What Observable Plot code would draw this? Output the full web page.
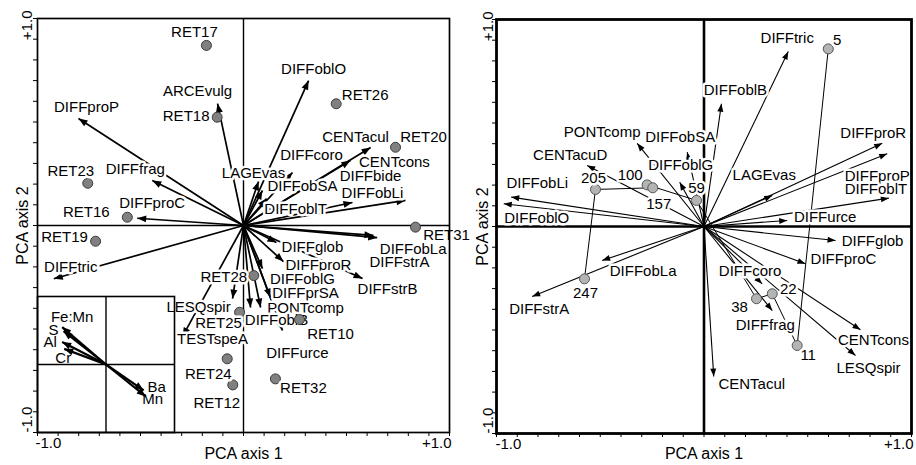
<!DOCTYPE html>
<html><head><meta charset="utf-8">
<script src="https://cdn.jsdelivr.net/npm/d3@7"></script>
<script src="https://cdn.jsdelivr.net/npm/@observablehq/plot@0.6"></script>
<style>
body{margin:0;background:#fff;}
#wrap{position:relative;width:916px;height:465px;overflow:hidden;background:#fff;}
#left{position:absolute;left:0;top:0;}
#right{position:absolute;left:458px;top:0;}
#inset{position:absolute;left:35px;top:294px;}
svg{overflow:visible;}
</style></head><body><div id="wrap"><div id="left"></div><div id="right"></div><div id="inset"></div></div>
<script>
const FONT = "'Liberation Sans', Arial, Helvetica, sans-serif";

// ---------- Left panel: sites ----------
const leftSiteNames = ["RET17","RET18","RET26","RET20","RET23","RET16","RET19","RET31","RET28","RET25","RET10","RET24","RET12","RET32"];
const leftSiteX = [-0.180,-0.128,0.450,0.738,-0.756,-0.564,-0.718,0.835,0.050,-0.019,0.272,-0.079,-0.052,0.155];
const leftSiteY = [0.870,0.523,0.588,0.378,0.204,0.040,-0.076,-0.008,-0.242,-0.419,-0.454,-0.644,-0.770,-0.741];

// ---------- Left panel: species arrows ----------
const leftSpecNames = ["DIFFproP","ARCEvulg","DIFFoblO","CENTacul","CENTcons","DIFFcoro","LAGEvas","DIFFobSA","DIFFbide","DIFFobLi","DIFFoblT","DIFFfrag","DIFFproC","DIFFtric","DIFFobLa","DIFFstrA","DIFFglob","DIFFproR","DIFFstrB","DIFFoblG","DIFFprSA","PONTcomp","DIFFoblB","DIFFurce","LESQspir","TESTspeA"];
const leftSpecX = [-0.801,-0.126,0.316,0.617,0.519,0.238,0.073,0.092,0.529,0.786,0.112,-0.443,-0.516,-0.921,0.649,0.631,0.160,0.194,0.578,0.092,0.131,0.083,0.034,0.189,-0.053,-0.296];
const leftSpecY = [0.517,0.589,0.700,0.377,0.314,0.256,0.213,0.169,0.111,0.121,0.130,0.217,0.035,-0.257,-0.059,-0.048,-0.082,-0.174,-0.256,-0.208,-0.348,-0.396,-0.396,-0.507,-0.353,-0.536];

// ---------- Left inset: environmental variables ----------
const envNames = ["Fe:Mn","S","Al","Cr","Ba","Mn"];
const envX = [-0.64,-0.62,-0.64,-0.61,0.55,0.58];
const envY = [0.55,0.49,0.33,0.23,-0.38,-0.47];

// ---------- Right panel: sites (trajectory order) ----------
const rightSiteNames = ["5","11","22","38","59","100","157","205","247"];
const rightSiteX = [0.599,0.449,0.329,0.253,-0.036,-0.274,-0.247,-0.523,-0.576];
const rightSiteY = [0.858,-0.575,-0.325,-0.349,0.126,0.201,0.187,0.179,-0.253];

// ---------- Right panel: species arrows ----------
const rightSpecNames = ["DIFFtric","DIFFoblB","DIFFproR","DIFFproP","DIFFoblT","LAGEvas","DIFFurce","DIFFglob","DIFFproC","DIFFcoro","DIFFfrag","CENTcons","LESQspir","CENTacul","DIFFstrA","DIFFobLa","DIFFobLi","DIFFoblO","CENTacuD","PONTcomp","DIFFobSA","DIFFoblG"];
const rightSpecX = [0.406,0.084,0.859,0.883,0.891,0.329,0.401,0.634,0.489,0.280,0.329,0.754,0.730,0.047,-0.828,-0.491,-0.929,-0.965,-0.563,-0.322,-0.081,-0.117];
const rightSpecY = [0.845,0.593,0.402,0.351,0.137,0.150,0.029,-0.068,-0.180,-0.277,-0.406,-0.499,-0.623,-0.725,-0.338,-0.164,0.142,0.110,0.295,0.402,0.359,0.214];

// ---------- Tick labels / titles ----------
const tickValues = [-1, 1];
const tickLabels = ["-1.0", "+1.0"];
const xTitle = "PCA axis 1";
const yTitle = "PCA axis 2";

// ---------- Layout: label offsets in pixels (relative to point / arrow tip) ----------
const leftSiteOff = {RET17:[-12,-13],RET18:[-31,-1],RET26:[29,-9],RET20:[28,-10],RET23:[-17,-12],RET16:[-41,-5],RET19:[-31,-4],RET31:[31,8],RET28:[-30,2],RET25:[-21,11],RET10:[31,15],RET24:[-19,15],RET12:[-16,18],RET32:[28,9]};
const leftSpecOff = {DIFFproP:[8,-11],ARCEvulg:[-20,-12],DIFFoblO:[5,-11],CENTacul:[-15,-10],CENTcons:[44,2],DIFFcoro:[19,-17],LAGEvas:[-5,-8],DIFFobSA:[40,-4],DIFFbide:[18,-26],DIFFobLi:[-33,-7],DIFFoblT:[29,11],DIFFfrag:[-17,-11],DIFFproC:[15,-15],DIFFtric:[17,-12],DIFFobLa:[36,11],DIFFstrA:[26,27],DIFFglob:[36,5],DIFFproR:[35,4],DIFFstrB:[25,11],DIFFoblG:[40,11],DIFFprSA:[35,-4],PONTcomp:[45,1],DIFFoblB:[26,13],DIFFurce:[15,23],LESQspir:[-34,9],TESTspeA:[30,3]};
const envOff = {"Fe:Mn":[10,-10],S:[-10,-1],Al:[-12,0],Cr:[-1,9],Ba:[13,-3],Mn:[7,3]};
const rightSiteOff = {"5":[9,-9],"11":[11,10],"22":[16,-5],"38":[-17,8],"59":[0,-12],"100":[-17,-10],"157":[6,16],"205":[-2,-11],"247":[1,14]};
const rightSpecOff = {DIFFtric:[-1,-13],DIFFoblB:[14,-14],DIFFproR:[-9,-10],DIFFproP:[-10,22],DIFFoblT:[-13,-9],LAGEvas:[-8,-20],DIFFurce:[38,-3],DIFFglob:[37,1],DIFFproC:[38,-5],DIFFcoro:[-12,-13],DIFFfrag:[-7,15],CENTcons:[13,10],LESQspir:[13,13],CENTacul:[38,8],DIFFstrA:[7,13],DIFFobLa:[41,11],DIFFobLi:[26,-14],DIFFoblO:[33,14],CENTacuD:[-17,-10],PONTcomp:[-35,-11],DIFFobSA:[-7,-15],DIFFoblG:[1,-17]};

function rows(names, xs, ys, offs) {
  return names.map((n, i) => ({name: n, x: xs[i], y: ys[i], ox: (offs[n] || [0,0])[0], oy: (offs[n] || [0,0])[1]}));
}

function makeMarker(len, half) {
  return function (color) {
    const ns = "http://www.w3.org/2000/svg";
    const m = document.createElementNS(ns, "marker");
    m.setAttribute("viewBox", `${-len - 1} ${-half - 1} ${len + 2} ${2 * half + 2}`);
    m.setAttribute("markerWidth", len + 2);
    m.setAttribute("markerHeight", 2 * half + 2);
    m.setAttribute("markerUnits", "userSpaceOnUse");
    m.setAttribute("orient", "auto");
    m.setAttribute("refX", 0);
    m.setAttribute("refY", 0);
    const p = document.createElementNS(ns, "path");
    p.setAttribute("d", `M${-len},${-half}L0,0L${-len},${half}Z`);
    p.setAttribute("fill", color || "black");
    p.setAttribute("stroke", "none");
    m.appendChild(p);
    m.node = () => m;
    return m;
  };
}

function arrows(data, cfg, useCustom) {
  const o = {x1: () => 0, y1: () => 0, x2: "x", y2: "y", stroke: "black", strokeWidth: cfg.arrowW};
  return useCustom
    ? Plot.link(data, {...o, markerEnd: makeMarker(cfg.headLen, cfg.headHalf)})
    : Plot.arrow(data, {...o, headLength: cfg.headLen, headAngle: 50});
}

function buildPanel(cfg, useCustom) {
  const {w, h, ml, mr, mt, mb} = cfg;
  const KX = (w - ml - mr) / 2, KY = (h - mt - mb) / 2;
  const lx = d => d.x + d.ox / KX;
  const ly = d => d.y - d.oy / KY;
  const lab = {x: lx, y: ly, text: "name", fill: "black", stroke: "white", strokeWidth: 5, paintOrder: "stroke", fontSize: 15};
  const marks = [
    Plot.ruleX([0], {stroke: "black", strokeWidth: cfg.zeroW}),
    Plot.ruleY([0], {stroke: "black", strokeWidth: cfg.zeroW}),
    arrows(cfg.species, cfg, useCustom)
  ];
  if (cfg.traj) marks.push(Plot.line(cfg.traj, {x: "x", y: "y", stroke: "black", strokeWidth: 1}));
  marks.push(
    Plot.text(cfg.species, lab),
    Plot.dot(cfg.sites, {x: "x", y: "y", r: 5, fill: cfg.siteFill, stroke: cfg.siteStroke, strokeWidth: 1}),
    Plot.text(cfg.sites, lab),
    Plot.frame({stroke: "black", strokeWidth: cfg.frameW}),
    // x tick labels
    Plot.text([tickValues[0]], {x: d => d, frameAnchor: "bottom", text: () => tickLabels[0], textAnchor: "start", lineAnchor: "middle", dx: cfg.xtdx0, dy: 11, fontSize: 15}),
    Plot.text([tickValues[1]], {x: d => d, frameAnchor: "bottom", text: () => tickLabels[1], textAnchor: "end", lineAnchor: "middle", dx: 2, dy: 11, fontSize: 15}),
    // y tick labels (rotated)
    Plot.text([tickValues[1]], {y: d => d, frameAnchor: "left", text: () => tickLabels[1], rotate: -90, textAnchor: "end", lineAnchor: "middle", dx: cfg.ytdx, dy: -8, fontSize: 15}),
    Plot.text([tickValues[0]], {y: d => d, frameAnchor: "left", text: () => tickLabels[0], rotate: -90, textAnchor: "start", lineAnchor: "middle", dx: cfg.ytdx, dy: 0, fontSize: 15}),
    // axis titles
    Plot.text([xTitle], {frameAnchor: "bottom", text: d => d, textAnchor: "middle", lineAnchor: "middle", dy: cfg.xTitleDy, fontSize: 16}),
    Plot.text([yTitle], {frameAnchor: "left", text: d => d, rotate: -90, textAnchor: "middle", lineAnchor: "middle", dx: cfg.yTitleDx, fontSize: 16})
  );
  return Plot.plot({
    width: w, height: h, marginLeft: ml, marginRight: mr, marginTop: mt, marginBottom: mb,
    x: {domain: [-1, 1], ticks: 20, tickSize: 4, tickFormat: () => "", label: null},
    y: {domain: [-1, 1], ticks: 20, tickSize: 4, tickFormat: () => "", label: null},
    style: {fontFamily: FONT, fontSize: "15px", background: "transparent", color: "black", overflow: "visible"},
    marks
  });
}

function buildInset(useCustom) {
  const w = 141, h = 140, m = 2;
  const KX = (w - 2 * m) / 2, KY = (h - 2 * m) / 2;
  const data = rows(envNames, envX, envY, envOff);
  const cfg = {arrowW: 2.2, headLen: 9, headHalf: 3.5};
  return Plot.plot({
    width: w, height: h, marginLeft: m, marginRight: m, marginTop: m, marginBottom: m,
    x: {domain: [-1, 1], axis: null}, y: {domain: [-1, 1], axis: null},
    style: {fontFamily: FONT, fontSize: "15px", background: "transparent", color: "black", overflow: "visible"},
    marks: [
      Plot.ruleX([0], {stroke: "black", strokeWidth: 1.4}),
      Plot.ruleY([0], {stroke: "black", strokeWidth: 1.4}),
      Plot.frame({stroke: "black", strokeWidth: 1.6}),
      arrows(data, cfg, useCustom),
      Plot.text(data, {x: d => d.x + d.ox / KX, y: d => d.y - d.oy / KY, text: "name", fill: "black", fontSize: 15})
    ]
  });
}

const leftCfg = {
  w: 458, h: 465, ml: 37, mr: 9, mt: 18, mb: 33,
  zeroW: 1.4, frameW: 1.7, arrowW: 1.7, headLen: 9, headHalf: 3.5,
  siteFill: "#808080", siteStroke: "#3a3a3a",
  xtdx0: -2, ytdx: -10, xTitleDy: 21, yTitleDx: -15,
  sites: rows(leftSiteNames, leftSiteX, leftSiteY, leftSiteOff),
  species: rows(leftSpecNames, leftSpecX, leftSpecY, leftSpecOff)
};
const rightCfg = {
  w: 458, h: 465, ml: 38, mr: 5, mt: 19, mb: 32,
  zeroW: 2.6, frameW: 2.8, arrowW: 1.1, headLen: 8, headHalf: 3,
  siteFill: "#b4b4b4", siteStroke: "#555555",
  xtdx0: -1, ytdx: -8, xTitleDy: 20, yTitleDx: -14,
  sites: rows(rightSiteNames, rightSiteX, rightSiteY, rightSiteOff),
  species: rows(rightSpecNames, rightSpecX, rightSpecY, rightSpecOff),
  traj: rows(rightSiteNames, rightSiteX, rightSiteY, {})
};

function render(useCustom) {
  const L = buildPanel(leftCfg, useCustom);
  const R = buildPanel(rightCfg, useCustom);
  const I = buildInset(useCustom);
  document.getElementById("left").replaceChildren(L);
  document.getElementById("right").replaceChildren(R);
  document.getElementById("inset").replaceChildren(I);
}
try { render(true); } catch (e) { console.error(e); render(false); }
</script>
</body></html>
